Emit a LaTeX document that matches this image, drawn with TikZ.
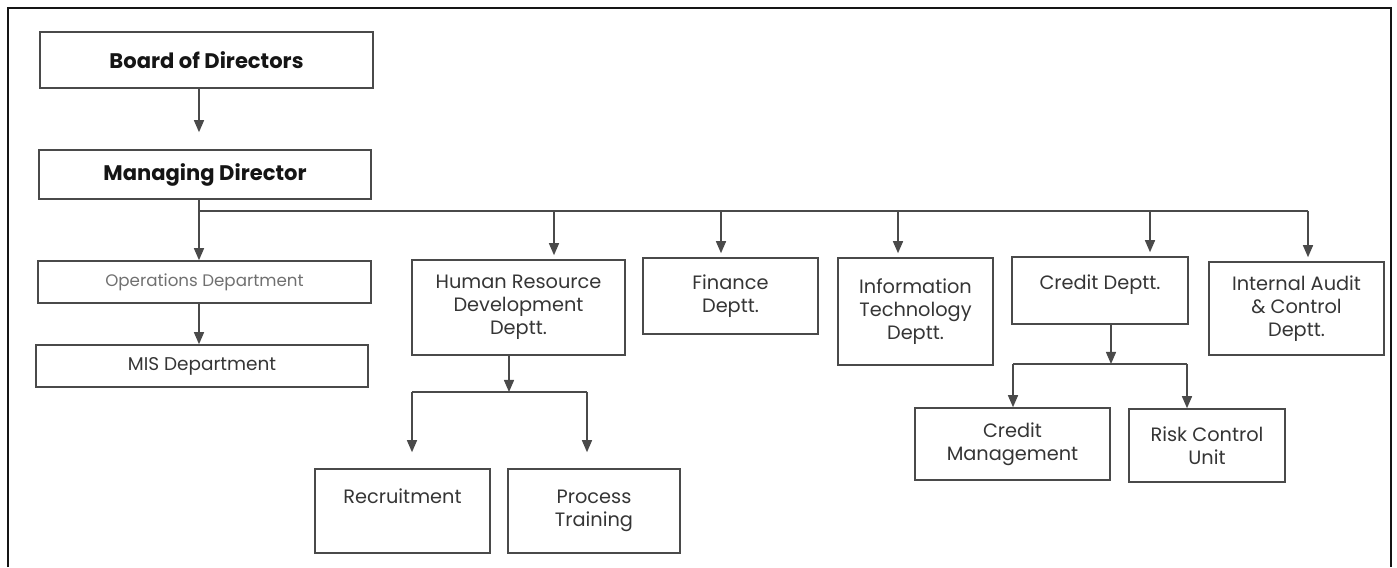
\documentclass[tikz,border=0pt]{standalone}
\usepackage{fontspec}
\setmainfont{Poppins}
\usepackage{tikz}
\usetikzlibrary{arrows.meta}
\definecolor{OCLine}{HTML}{4A4A4A}
\definecolor{OCText}{HTML}{353535}
\definecolor{OCSoft}{HTML}{707070}
\definecolor{OCFrame}{HTML}{151515}

\begin{document}
\begin{tikzpicture}[x=1cm,y=1cm,
  unit/.style={draw=OCLine,line width=0.9pt,align=center,inner sep=0pt,text=OCText,font=\fontsize{11}{13.2}\selectfont},
  head/.style={unit,text=OCFrame,font=\fontsize{12}{14}\selectfont\bfseries},
  link/.style={draw=OCLine,line width=0.8pt},
  feed/.style={link,-{Triangle[length=0.24cm,width=0.2cm]}}]
\path[use as bounding box] (0,0) rectangle (27.94,11.34);
\draw[OCFrame,line width=1.6pt] (0.16,0) -- (0.16,11.18) -- (27.82,11.18) -- (27.82,0);
\node[head,minimum width=6.66cm,minimum height=1.12cm] (board) at (4.13,10.14) {Board of Directors};
\node[head,minimum width=6.64cm,minimum height=0.98cm] (md) at (4.10,7.85) {Managing Director};
\node[unit,text=OCSoft,font=\fontsize{9.5}{12}\selectfont,minimum width=6.66cm,minimum height=0.84cm] (ops) at (4.09,5.70) {Operations Department};
\node[unit,font=\fontsize{10.5}{13}\selectfont,minimum width=6.64cm,minimum height=0.84cm] (mis) at (4.04,4.02) {MIS Department};
\node[unit,minimum width=4.26cm,minimum height=1.90cm] (hrd) at (10.37,5.19) {Human Resource\\Development\\Deptt.};
\node[unit,minimum width=3.50cm,minimum height=1.52cm] (fin) at (14.61,5.42) {Finance\\Deptt.};
\node[unit,minimum width=3.10cm,minimum height=2.14cm] (it) at (18.31,5.11) {Information\\Technology\\Deptt.};
\node[unit,minimum width=3.52cm,minimum height=1.34cm] (cred) at (22.00,5.53) {Credit Deptt.\\[-0.25cm]\strut};
\node[unit,minimum width=3.50cm,minimum height=1.86cm] (iac) at (25.93,5.17) {Internal Audit\\\& Control\\Deptt.};
\node[unit,minimum width=3.90cm,minimum height=1.44cm] (cm) at (20.25,2.46) {Credit\\Management};
\node[unit,minimum width=3.12cm,minimum height=1.46cm] (risk) at (24.14,2.43) {Risk Control\\Unit};
\node[unit,minimum width=3.50cm,minimum height=1.68cm] (recr) at (8.05,1.12) {Recruitment\\\strut};
\node[unit,minimum width=3.44cm,minimum height=1.68cm] (proc) at (11.88,1.12) {Process\\Training};
\coordinate (bus) at (3.98,7.12);
\coordinate (hrdtap) at (11.08,7.12);
\coordinate (fintap) at (14.42,7.12);
\coordinate (ittap) at (17.96,7.12);
\coordinate (credtap) at (23.00,7.12);
\coordinate (iactap) at (26.16,7.12);
\coordinate (hrdsplit) at (10.18,3.50);
\coordinate (hrdleft) at (8.24,3.50);
\coordinate (hrdright) at (11.74,3.50);
\coordinate (credsplit) at (22.22,4.06);
\coordinate (credleft) at (20.26,4.06);
\coordinate (credright) at (23.74,4.06);
\draw[feed,shorten >=0.34cm] (board.south -| bus) -- (md.north -| bus);
\draw[link] (md.south -| bus) -- (bus) -- (iactap);
\draw[feed] (bus) -- (ops.north -| bus);
\draw[feed] (ops.south -| bus) -- (mis.north -| bus);
\draw[feed,shorten >=0.08cm] (hrdtap) -- (hrdtap |- hrd.north);
\draw[feed,shorten >=0.08cm] (fintap) -- (fintap |- fin.north);
\draw[feed,shorten >=0.08cm] (ittap) -- (ittap |- it.north);
\draw[feed,shorten >=0.08cm] (credtap) -- (credtap |- cred.north);
\draw[feed,shorten >=0.08cm] (iactap) -- (iactap |- iac.north);
\draw[feed] (hrd.south -| hrdsplit) -- (hrdsplit);
\draw[link] (hrdleft) -- (hrdright);
\draw[feed,shorten >=0.32cm] (hrdleft) -- (hrdleft |- recr.north);
\draw[feed,shorten >=0.32cm] (hrdright) -- (hrdright |- proc.north);
\draw[feed] (cred.south -| credsplit) -- (credsplit);
\draw[link] (credleft) -- (credright);
\draw[feed] (credleft) -- (credleft |- cm.north);
\draw[feed] (credright) -- (credright |- risk.north);
\end{tikzpicture}
\end{document}
